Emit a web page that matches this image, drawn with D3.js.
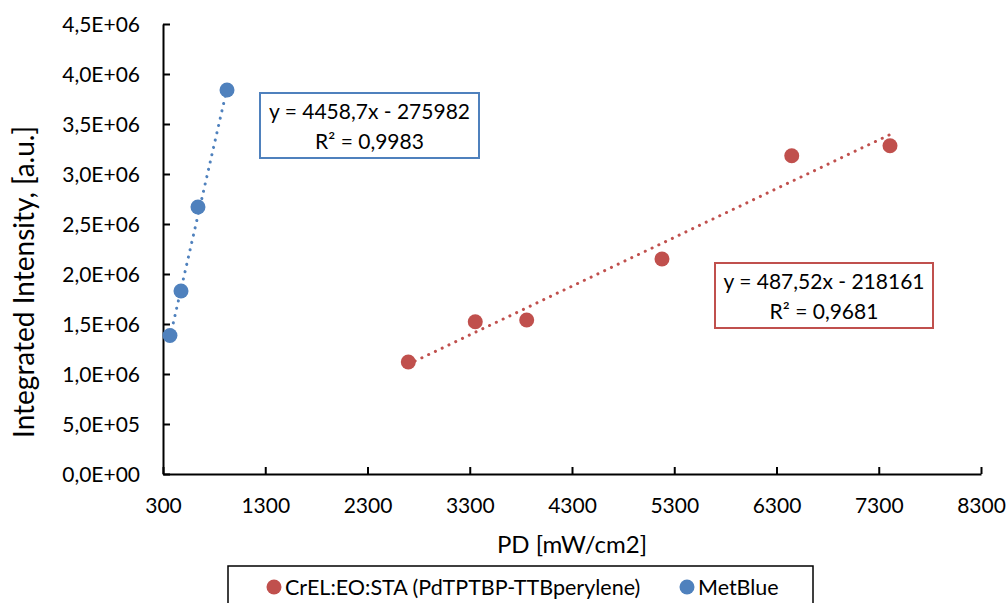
<!DOCTYPE html>
<html>
<head>
<meta charset="utf-8">
<script src="https://cdn.jsdelivr.net/npm/d3@7"></script>
<style>
  body { margin: 0; background: #fff; }
  svg { display: block; font-family: Lato, "Open Sans", sans-serif; }
</style>
</head>
<body>
<div id="chart"></div>
<script>
// data
var redName = "CrEL:EO:STA (PdTPTBP-TTBperylene)";
var redX = [2699, 3354, 3857, 5180, 6449, 7410];
var redY = [1120000, 1523000, 1540000, 2150000, 3183000, 3283000];
var redFit = [487.52, -218161];
var redEq = ["y = 487,52x - 218161", "R² = 0,9681"];

var blueName = "MetBlue";
var blueX = [368, 476, 642, 926];
var blueY = [1385000, 1830000, 2670000, 3840000];
var blueFit = [4458.7, -275982];
var blueEq = ["y = 4458,7x - 275982", "R² = 0,9983"];

var xTicks = [300, 1300, 2300, 3300, 4300, 5300, 6300, 7300, 8300];
var yTicks = [0, 500000, 1000000, 1500000, 2000000, 2500000, 3000000, 3500000, 4000000, 4500000];

var red = "#C0504D";
var blue = "#4F81BD";

var width = 1007, height = 603;
var margin = {left: 163, right: 26, top: 24, bottom: 129};
var w = width - margin.left - margin.right;
var h = height - margin.top - margin.bottom;

var svg = d3.select("#chart").append("svg")
    .attr("width", width)
    .attr("height", height);

var x = d3.scaleLinear().domain([300, 8300]).range([margin.left, margin.left + w]);
var y = d3.scaleLinear().domain([0, 4500000]).range([margin.top + h, margin.top]);

function yFormat(v) {
  // excel style 4,5E+06
  var e = v === 0 ? 0 : Math.floor(Math.log10(v));
  var m = (v / Math.pow(10, e)).toFixed(1).replace(".", ",");
  return m + "E+" + (e < 10 ? "0" + e : e);
}

// axes
var xAxis = d3.axisBottom(x).tickValues(xTicks).tickSizeInner(-7).tickSizeOuter(0).tickPadding(0).tickFormat(d3.format("d"));
var yAxis = d3.axisLeft(y).tickValues(yTicks).tickSizeInner(-7).tickSizeOuter(0).tickFormat(yFormat);

var gx = svg.append("g")
    .attr("transform", "translate(0," + (margin.top + h) + ")")
    .call(xAxis);
gx.selectAll("text").attr("y", 32).attr("dy", "0.35em");

var gy = svg.append("g")
    .attr("transform", "translate(" + margin.left + ",0)")
    .call(yAxis);
gy.selectAll("text").attr("x", -23).attr("dy", "0.35em");

svg.selectAll(".domain").attr("stroke", "#000").attr("stroke-width", 2);
svg.selectAll(".tick line").attr("stroke", "#000").attr("stroke-width", 2);
svg.selectAll(".tick text").attr("fill", "#000").style("font-size", "21px").style("font-family", "Lato, sans-serif");

// axis titles
svg.append("text")
    .attr("transform", "translate(24,282) rotate(-90)")
    .attr("text-anchor", "middle")
    .attr("dy", "0.35em")
    .style("font-size", "28px")
    .text("Integrated Intensity, [a.u.]");

svg.append("text")
    .attr("x", margin.left + w / 2)
    .attr("y", 545)
    .attr("text-anchor", "middle")
    .attr("dy", "0.35em")
    .style("font-size", "24px")
    .text("PD [mW/cm2]");

// trend lines
function drawTrend(xs, fit, color) {
  var ends = d3.extent(xs).map(function(v) { return [v, fit[0] * v + fit[1]]; });
  svg.append("path")
    .datum(ends)
    .attr("d", d3.line().x(function(d) { return x(d[0]); }).y(function(d) { return y(d[1]); }))
    .attr("fill", "none")
    .attr("stroke", color)
    .attr("stroke-width", 3)
    .attr("stroke-linecap", "round")
    .attr("stroke-dasharray", "0.1,7.4");
}
drawTrend(redX, redFit, red);
drawTrend(blueX, blueFit, blue);

// points
function drawPoints(xs, ys, color) {
  svg.append("g").selectAll("circle")
    .data(xs.map(function(v, i) { return [v, ys[i]]; }))
    .enter().append("circle")
    .attr("cx", function(d) { return x(d[0]); })
    .attr("cy", function(d) { return y(d[1]); })
    .attr("r", 7.5)
    .attr("fill", color);
}
drawPoints(redX, redY, red);
drawPoints(blueX, blueY, blue);

// equation labels
function drawEq(box, lines, color) {
  svg.append("rect")
    .attr("x", box[0]).attr("y", box[1])
    .attr("width", box[2]).attr("height", box[3])
    .attr("fill", "#fff")
    .attr("stroke", color)
    .attr("stroke-width", 2);
  svg.append("text")
    .attr("text-anchor", "middle")
    .style("font-size", "21px")
    .selectAll("tspan")
    .data(lines)
    .enter().append("tspan")
    .attr("x", box[0] + box[2] / 2)
    .attr("y", function(d, i) { return box[1] + 19 + i * 30; })
    .attr("dy", "0.35em")
    .text(function(d) { return d; });
}
drawEq([260, 93, 219, 65], blueEq, blue);
drawEq([715, 263, 218, 65], redEq, red);

// legend
var legend = svg.append("g");
legend.append("rect")
    .attr("x", 228).attr("y", 566)
    .attr("width", 585).attr("height", 60)
    .attr("fill", "#fff")
    .attr("stroke", "#000")
    .attr("stroke-width", 1.5);
var items = [[redName, red, 274], [blueName, blue, 687]];
items.forEach(function(it) {
  legend.append("circle").attr("cx", it[2]).attr("cy", 587).attr("r", 7.5).attr("fill", it[1]);
  legend.append("text")
    .attr("x", it[2] + 11).attr("y", 587)
    .attr("dy", "0.35em")
    .style("font-size", "21.5px")
    .text(it[0]);
});
</script>
</body>
</html>
